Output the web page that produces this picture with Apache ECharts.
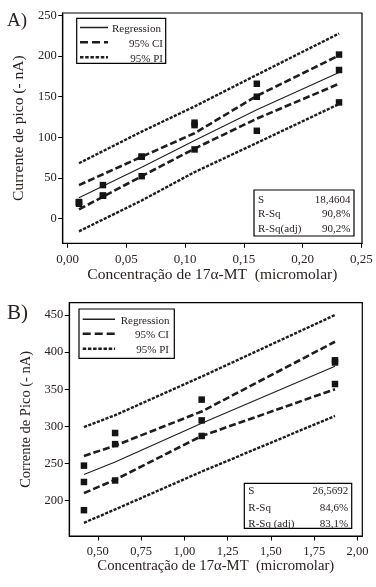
<!DOCTYPE html>
<html>
<head>
<meta charset="utf-8">
<script src="https://cdn.jsdelivr.net/npm/echarts@6/dist/echarts.min.js"></script>
<style>
html,body{margin:0;padding:0;background:#fff;}
#c{width:376px;height:587px;}
</style>
</head>
<body>
<div id="c"></div>
<script>
// ---------- Panel A data ----------
const concA = [0.0096,0.0096,0.0096,0.03,0.03,0.03,0.063,0.063,0.063,0.108,0.108,0.108,0.161,0.161,0.161,0.231,0.231,0.231];
const currentA = [18,20,20,41,28,28,76,76,52,115,118,85,166,150,108,202,183,143];
const lineXA = [0.0096,0.063,0.108,0.161,0.231];
const regA = [25.5,63,96,134,180];
const ciUpperA = [41,76,105,151,201];
const ciLowerA = [11,52,86,123,166];
const piUpperA = [68,107,138,177,228];
const piLowerA = [-16,22,57,93,141];
const xTicksA = [0,0.05,0.10,0.15,0.20,0.25];
const yTicksA = [0,50,100,150,200,250];
const statsA = [["S","18,4604"],["R-Sq","90,8%"],["R-Sq(adj)","90,2%"]];

// ---------- Panel B data ----------
const concB = [0.42,0.42,0.42,0.6,0.6,0.6,1.1,1.1,1.1,1.87,1.87,1.87];
const currentB = [247,225,187,291,276,227,336,308,287,389,386,357];
const lineXB = [0.42,0.6,1.1,1.87];
const regB = [235,252,304,381];
const ciUpperB = [260,274,320,414];
const ciLowerB = [210,228,287,350];
const piUpperB = [299,315,367,450];
const piLowerB = [170,188,239,314];
const xTicksB = [0.5,0.75,1.0,1.25,1.5,1.75,2.0];
const yTicksB = [200,250,300,350,400,450];
const statsB = [["S","26,5692"],["R-Sq","84,6%"],["R-Sq (adj)","83,1%"]];

const legendNames = ["Regression","95% CI","95% PI"];

// ---------- styling ----------
const FONT = "Liberation Serif";
const TXT = "#2a2220";
const LN = "#1e1e1e";
const CI_DASH = [7,3];
const PI_DASH = [3.2,1.4];

function pairs(xs, ys){ return xs.map((x,i)=>[x, ys[i]]); }
function comma2(v){ return Number(v).toFixed(2).replace('.', ','); }

function lineSeries(idx, data, width, dash){
  return {
    type:'line', xAxisIndex:idx, yAxisIndex:idx, data:data,
    symbol:'none', smooth:false, silent:true, z:3,
    lineStyle:{color:LN, width:width, type:dash || 'solid', cap:'butt'}
  };
}

function xAxisCfg(idx, min, max, ticks, nameGap, labelMargin, nameSize, labelSize){
  return {
    type:'value', gridIndex:idx, min:min, max:max,
    name:'Concentração de 17α-MT  (micromolar)', nameLocation:'middle', nameGap:nameGap,
    nameTextStyle:{fontFamily:FONT, fontSize:nameSize, color:TXT},
    axisLine:{show:true, onZero:false, lineStyle:{color:'#000', width:1.2}},
    axisTick:{show:true, length:4.5, inside:false, customValues:ticks, lineStyle:{color:'#000', width:1}},
    axisLabel:{show:true, customValues:ticks, margin:labelMargin, fontFamily:FONT, fontSize:labelSize, color:TXT, formatter:comma2},
    splitLine:{show:false}
  };
}
function yAxisCfg(idx, min, max, ticks, name, nameGap, nameSize, labelSize){
  return {
    type:'value', gridIndex:idx, min:min, max:max,
    name:name, nameLocation:'middle', nameGap:nameGap, nameRotate:90,
    nameTextStyle:{fontFamily:FONT, fontSize:nameSize, color:TXT},
    axisLine:{show:true, onZero:false, lineStyle:{color:'#000', width:1.2}},
    axisTick:{show:true, length:4.5, inside:false, customValues:ticks, lineStyle:{color:'#000', width:1}},
    axisLabel:{show:true, customValues:ticks, margin:6, fontFamily:FONT, fontSize:labelSize, color:TXT, formatter:(v)=>String(Math.round(v))},
    splitLine:{show:false}
  };
}

function legendBox(x, y, w, h, lineX0, lineX1, rowsY, textLeft, textRight){
  const els = [{type:'rect', shape:{x:x, y:y, width:w, height:h}, style:{fill:'#fff', stroke:'#000', lineWidth:1.2}, z:10}];
  const styles = [[1.5,null],[2.6,CI_DASH.map(v=>v+1)],[2.6,PI_DASH.map(v=>v+0.3)]];
  rowsY.forEach((ry,i)=>{
    els.push({type:'line', shape:{x1:lineX0, y1:ry, x2:lineX1, y2:ry},
      style:{stroke:LN, lineWidth:styles[i][0], lineDash:styles[i][1], lineCap:'butt'}, z:11});
    els.push({type:'text', x: i===0 ? textLeft : textRight, y: ry + 1.5,
      style:{text:legendNames[i], font:'11px "'+FONT+'"', fill:TXT, align: i===0 ? 'left':'right', verticalAlign:'middle'}, z:11});
  });
  return els;
}
function statsBox(x, y, w, h, rowsY, stats){
  const els = [{type:'rect', shape:{x:x, y:y, width:w, height:h}, style:{fill:'#fff', stroke:'#000', lineWidth:1.2}, z:10}];
  stats.forEach((r,i)=>{
    els.push({type:'text', x:x+4, y:rowsY[i], style:{text:r[0], font:'11px "'+FONT+'"', fill:TXT, align:'left', verticalAlign:'middle'}, z:11});
    els.push({type:'text', x:x+w-3.5, y:rowsY[i], style:{text:r[1], font:'11px "'+FONT+'"', fill:TXT, align:'right', verticalAlign:'middle'}, z:11});
  });
  return els;
}

const chart = echarts.init(document.getElementById('c'), null, {renderer:'canvas'});

const option = {
  backgroundColor:'#fff',
  animation:false,
  textStyle:{fontFamily:FONT},
  grid:[
    {left:62.7, top:13, width:299.3, height:230.3, show:true, borderColor:'#000', borderWidth:1.2, backgroundColor:'transparent', containLabel:false, outerBoundsMode:'none'},
    {left:69.3, top:302.7, width:293, height:233.3, show:true, borderColor:'#000', borderWidth:1.2, backgroundColor:'transparent', containLabel:false, outerBoundsMode:'none'}
  ],
  xAxis:[
    xAxisCfg(0, -0.00426, 0.25055, xTicksA, 20.5, 10, 15.5, 13),
    xAxisCfg(1, 0.3354, 2.0277, xTicksB, 19.5, 9, 14.7, 12.5)
  ],
  yAxis:[
    yAxisCfg(0, -30.8, 253.3, yTicksA, 'Currente de pico (- nA)', 35, 15.5, 12.5),
    yAxisCfg(1, 152.2, 466.6, yTicksB, 'Corrente de Pico (- nA)', 33, 14.5, 12.5)
  ],
  series:[
    lineSeries(0, pairs(lineXA, piUpperA), 2.4, PI_DASH),
    lineSeries(0, pairs(lineXA, piLowerA), 2.4, PI_DASH),
    lineSeries(0, pairs(lineXA, ciUpperA), 2.6, CI_DASH),
    lineSeries(0, pairs(lineXA, ciLowerA), 2.6, CI_DASH),
    lineSeries(0, pairs(lineXA, regA), 1.1, 'solid'),
    {type:'scatter', xAxisIndex:0, yAxisIndex:0, data:pairs(concA, currentA), symbol:'rect', symbolSize:6.5, itemStyle:{color:'#141414', opacity:1}, z:5, silent:true},

    lineSeries(1, pairs(lineXB, piUpperB), 2.4, PI_DASH),
    lineSeries(1, pairs(lineXB, piLowerB), 2.4, PI_DASH),
    lineSeries(1, pairs(lineXB, ciUpperB), 2.6, CI_DASH),
    lineSeries(1, pairs(lineXB, ciLowerB), 2.6, CI_DASH),
    lineSeries(1, pairs(lineXB, regB), 1.1, 'solid'),
    {type:'scatter', xAxisIndex:1, yAxisIndex:1, data:pairs(concB, currentB), symbol:'rect', symbolSize:6.5, itemStyle:{color:'#141414', opacity:1}, z:5, silent:true}
  ],
  graphic:[
    {type:'text', x:7, y:21, style:{text:'A)', font:'19px "'+FONT+'"', fill:TXT, align:'left', verticalAlign:'middle'}, z:11},
    {type:'text', x:7, y:313, style:{text:'B)', font:'21px "'+FONT+'"', fill:TXT, align:'left', verticalAlign:'middle'}, z:11}
  ]
    .concat(legendBox(76.7, 18.3, 89, 45, 80, 108, [27.5, 42.3, 57.3], 112, 163))
    .concat(legendBox(79, 309, 95.3, 49.3, 82.7, 115, [319.3, 333.7, 348.7], 120.7, 169))
    .concat(statsBox(254, 190, 100, 46, [200, 214.3, 228.7], statsA))
    .concat(statsBox(244.3, 483.3, 107.4, 45, [491.3, 508.3, 523.7], statsB))
};
chart.setOption(option);
</script>
</body>
</html>
